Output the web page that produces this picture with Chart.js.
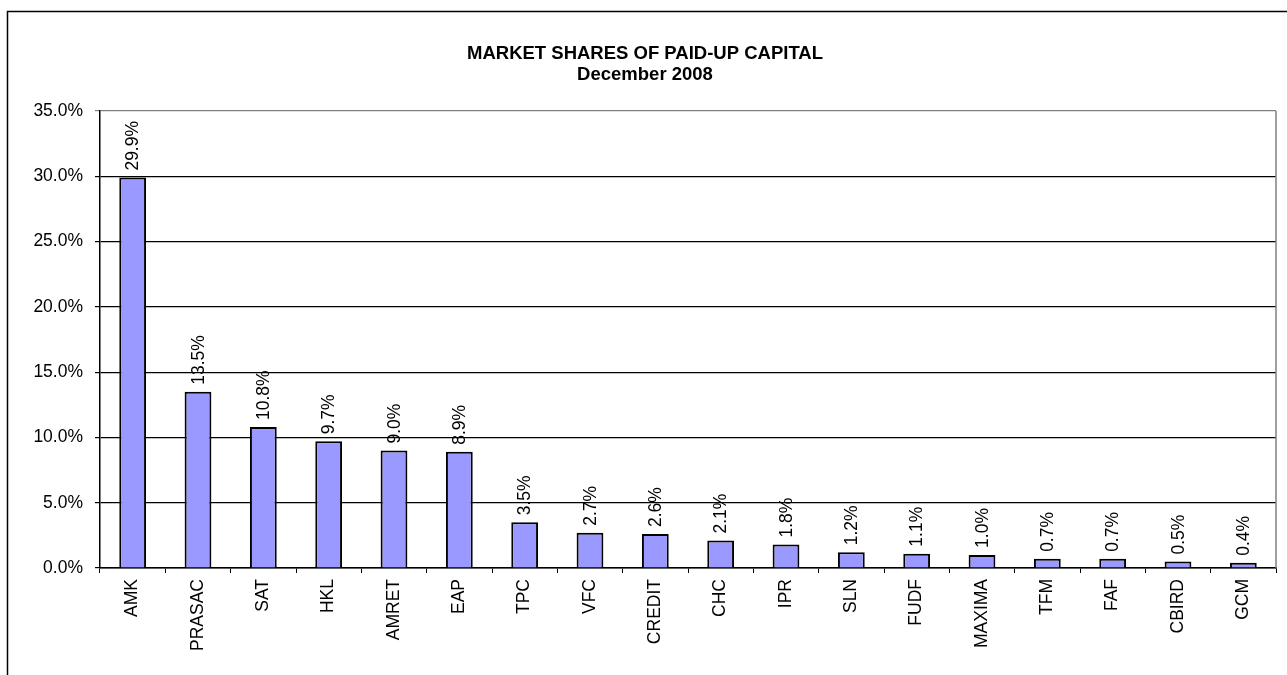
<!DOCTYPE html>
<html>
<head>
<meta charset="utf-8">
<script src="https://cdn.jsdelivr.net/npm/chart.js@4.4.0/dist/chart.umd.min.js"></script>
<style>
  html, body { margin: 0; padding: 0; background: #fff; }
  canvas { display: block; }
</style>
</head>
<body>
<canvas id="shareChart" width="1287" height="675"></canvas>
<script>
// Chart data
const companies = ['AMK', 'PRASAC', 'SAT', 'HKL', 'AMRET', 'EAP', 'TPC', 'VFC', 'CREDIT',
    'CHC', 'IPR', 'SLN', 'FUDF', 'MAXIMA', 'TFM', 'FAF', 'CBIRD', 'GCM'];
const shares = [29.9, 13.5, 10.8, 9.7, 9.0, 8.9, 3.5, 2.7, 2.6, 2.1, 1.8, 1.2, 1.1, 1.0, 0.7, 0.7, 0.5, 0.4];
const titleLines = ['MARKET SHARES OF PAID-UP CAPITAL', 'December 2008'];
const yMax = 35;
const yStep = 5;

const FONT = 'Arial, "Liberation Sans", sans-serif';

// Outer frame + plot border (gray top/right like Excel)
const framePlugin = {
    id: 'frame',
    beforeDraw(chart) {
        const ctx = chart.ctx;
        ctx.save();
        ctx.fillStyle = '#fff';
        ctx.fillRect(0, 0, chart.width, chart.height);
        ctx.strokeStyle = '#000';
        ctx.lineWidth = 1.5;
        ctx.strokeRect(7.5, 11.5, chart.width + 20, chart.height + 20);
        ctx.restore();
    },
    afterDraw(chart) {
        const a = chart.chartArea;
        const ctx = chart.ctx;
        ctx.save();
        ctx.strokeStyle = '#808080';
        ctx.lineWidth = 1.5;
        ctx.beginPath();
        ctx.moveTo(a.right, a.top);
        ctx.lineTo(a.right, a.bottom);
        ctx.stroke();
        ctx.restore();
    }
};

// Rotated value labels above each bar
const valueLabels = {
    id: 'valueLabels',
    afterDatasetsDraw(chart) {
        const ctx = chart.ctx;
        const meta = chart.getDatasetMeta(0);
        ctx.save();
        ctx.font = '17.5px ' + FONT;
        ctx.fillStyle = '#000';
        ctx.textAlign = 'left';
        ctx.textBaseline = 'middle';
        meta.data.forEach((bar, i) => {
            ctx.save();
            ctx.translate(bar.x, bar.y - 7);
            ctx.rotate(-Math.PI / 2);
            ctx.fillText(shares[i].toFixed(1) + '%', 0, 1);
            ctx.restore();
        });
        ctx.restore();
    }
};

const ctx = document.getElementById('shareChart').getContext('2d');
new Chart(ctx, {
    type: 'bar',
    data: {
        labels: companies,
        datasets: [{
            data: shares,
            backgroundColor: '#9999ff',
            borderColor: '#000',
            borderWidth: 2,
            categoryPercentage: 1,
            barPercentage: 0.41
        }]
    },
    options: {
        responsive: false,
        animation: false,
        devicePixelRatio: 1,
        layout: { padding: { left: 14, right: 11, top: 0, bottom: 0 } },
        plugins: {
            legend: { display: false },
            tooltip: { enabled: false },
            title: {
                display: true,
                text: titleLines,
                color: '#000',
                font: { family: FONT, size: 18.5, weight: 'bold', lineHeight: 1.1 },
                padding: { top: 44, bottom: 26.3 }
            }
        },
        scales: {
            x: {
                offset: true,
                grid: {
                    offset: true,
                    drawOnChartArea: false,
                    color: '#000',
                    tickLength: 5
                },
                border: { color: '#000', width: 1.5 },
                ticks: {
                    color: '#000',
                    font: { family: FONT, size: 17.5 },
                    minRotation: 90,
                    maxRotation: 90,
                    padding: 6,
                    autoSkip: false
                },
                afterFit(scale) { scale.height = 107; }
            },
            y: {
                min: 0,
                max: yMax,
                ticks: {
                    stepSize: yStep,
                    color: '#000',
                    font: { family: FONT, size: 17.5 },
                    padding: 12,
                    callback: v => v.toFixed(1) + '%'
                },
                grid: {
                    color: c => (c.tick && c.tick.value === yMax) ? '#808080' : '#000',
                    lineWidth: 1.2,
                    tickLength: 5
                },
                border: { color: '#000', width: 1.5 },
                afterFit(scale) { scale.width = 86; }
            }
        }
    },
    plugins: [framePlugin, valueLabels]
});
</script>
</body>
</html>
